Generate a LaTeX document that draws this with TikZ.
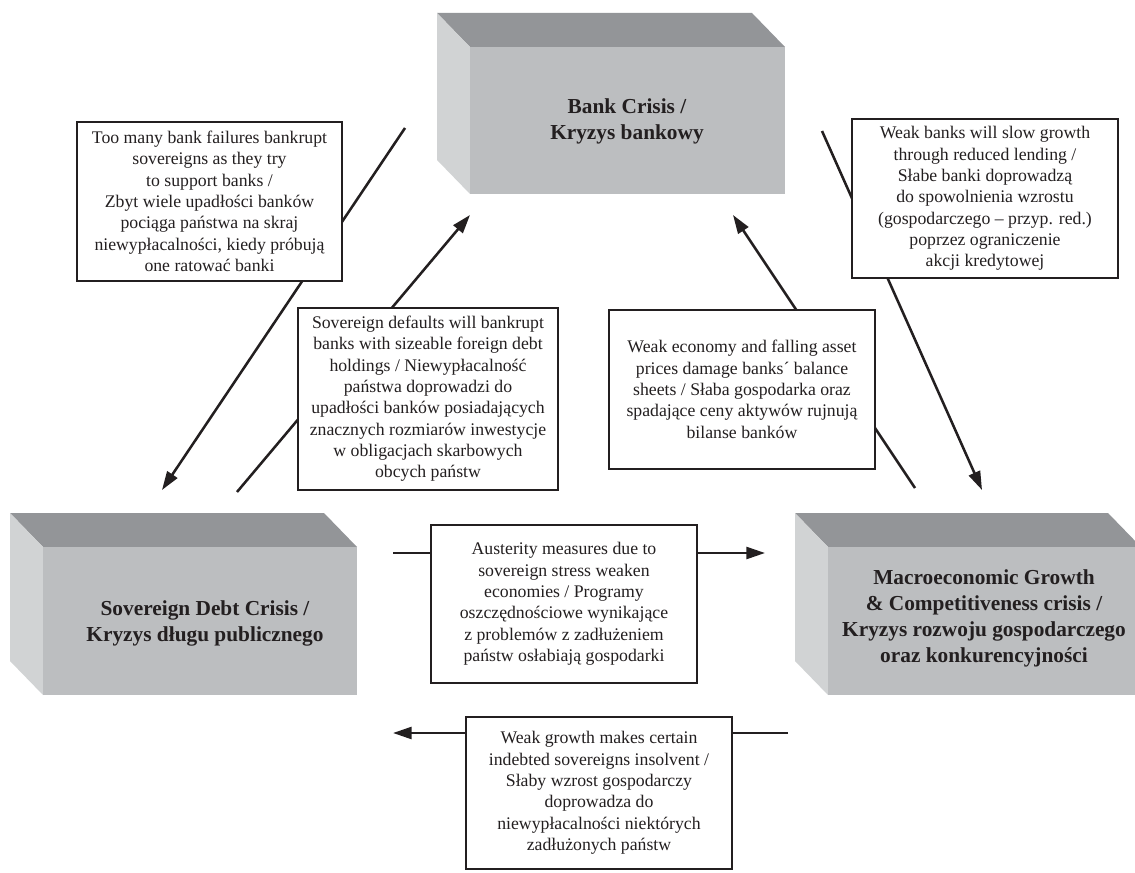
\documentclass[tikz,border=0pt]{standalone}
\usepackage{fontspec}
\setmainfont{Liberation Serif}
\usetikzlibrary{arrows.meta}

\definecolor{frontgrey}{RGB}{188,190,192}
\definecolor{topgrey}{RGB}{147,149,152}
\definecolor{sidegrey}{RGB}{209,211,212}
\definecolor{inkgrey}{RGB}{35,31,32}

\tikzset{
	effect/.style={draw=inkgrey, line width=2.2pt, fill=white, inner sep=0pt, align=center, text=inkgrey, font=\fontsize{13.3}{16}\selectfont},
	crisis/.style={align=center, text=inkgrey, font=\bfseries\fontsize{16}{19.5}\selectfont},
	link/.style={draw=inkgrey, line width=1.9pt, -{Triangle[length=14pt,width=9pt]}}
}

% front face from (#1,#2) to (#3,#4), depth goes up-left
\newcommand{\crisisblock}[4]{%
	\fill[topgrey] (#1-33,#2-34) -- (#3-33,#2-34) -- (#3,#2) -- (#1,#2) -- cycle;
	\fill[sidegrey] (#1-33,#2-34) -- (#1,#2) -- (#1,#4) -- (#1-33,#4-34) -- cycle;
	\fill[frontgrey] (#1,#2) rectangle (#3,#4);
}

\begin{document}
\begin{tikzpicture}[x=0.75pt,y=-0.75pt]
		\useasboundingbox (0,0) rectangle (1135,873);
		\clip (0,0) rectangle (1135,873);
		
		\crisisblock{470}{47}{785}{194}
		\crisisblock{43}{547}{357}{695}
		\crisisblock{828}{547}{1141}{695}
		
		\node [crisis] (bank) at (627,121) {Bank Crisis /\\ Kryzys bankowy};
		\node [crisis] (sov) at (205,623) {Sovereign Debt Crisis /\\ Kryzys długu publicznego};
		\node [crisis] (macro) at (984,618) {Macroeconomic Growth\\ \& Competitiveness crisis /\\ Kryzys rozwoju gospodarczego\\ oraz konkurencyjności};
		
		\coordinate (s1) at (405,128);
		\coordinate (e1) at (162,490);
		\coordinate (s2) at (237,492);
		\coordinate (e2) at (470,215);
		\coordinate (s3) at (915,488);
		\coordinate (e3) at (733,215);
		\coordinate (s4) at (822,131);
		\coordinate (e4) at (982,490);
		\coordinate (s5) at (393,553);
		\coordinate (e5) at (765,553);
		\coordinate (s6) at (788,733);
		\coordinate (e6) at (393,733);
		
		\foreach \i in {1,...,6}
			\draw [link] (s\i) -- (e\i);
		
		\node [effect, minimum width=198.75pt, minimum height=119.25pt] (b1) at (209.5,201.5) {Too many bank failures bankrupt\\ sovereigns as they try\\ to support banks /\\ Zbyt wiele upadłości banków\\ pociąga państwa na skraj\\ niewypłacalności, kiedy próbują\\ one ratować banki};
		\node [effect, minimum width=195pt, minimum height=136.5pt] (b2) at (428,399) {Sovereign defaults will bankrupt\\ banks with sizeable foreign debt\\ holdings / Niewypłacalność\\ państwa doprowadzi do\\ upadłości banków posiadających\\ znacznych rozmiarów inwestycje\\ w obligacjach skarbowych\\ obcych państw};
		\node [effect, minimum width=199.5pt, minimum height=119.25pt] (b3) at (742,389.5) {Weak economy and falling asset\\ prices damage banks´ balance\\ sheets / Słaba gospodarka oraz\\ spadające ceny aktywów rujnują\\ bilanse banków};
		\node [effect, minimum width=199.5pt, minimum height=119.25pt] (b4) at (985,198.5) {Weak banks will slow growth\\ through reduced lending /\\ Słabe banki doprowadzą\\ do spowolnienia wzrostu\\ (gospodarczego – przyp. red.)\\ poprzez ograniczenie\\ akcji kredytowej};
		\node [effect, minimum width=199.5pt, minimum height=118.5pt] (b5) at (564,604) {Austerity measures due to\\ sovereign stress weaken\\ economies / Programy\\ oszczędnościowe wynikające\\ z problemów z zadłużeniem\\ państw osłabiają gospodarki};
		\node [effect, minimum width=199.5pt, minimum height=114pt] (b6) at (599,793) {Weak growth makes certain\\ indebted sovereigns insolvent /\\ Słaby wzrost gospodarczy\\ doprowadza do\\ niewypłacalności niektórych\\ zadłużonych państw};
	\end{tikzpicture}
\end{document}
